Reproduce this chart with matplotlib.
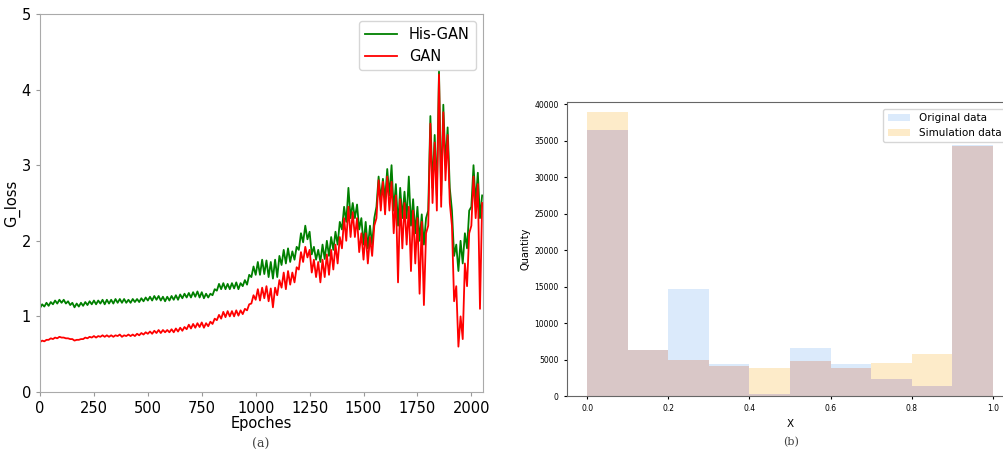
import numpy as np
import matplotlib
matplotlib.use('Agg')
import matplotlib.pyplot as plt

# G_loss, one value every 10 epochs
step = 10
gan = [
    0.66, 0.68, 0.67, 0.69, 0.69, 0.71, 0.70, 0.72, 0.71, 0.73,
    0.72, 0.72, 0.71, 0.71, 0.70, 0.70, 0.68, 0.69, 0.69, 0.70,
    0.70, 0.72, 0.71, 0.73, 0.72, 0.74, 0.72, 0.74, 0.73, 0.75,
    0.73, 0.75, 0.73, 0.75, 0.73, 0.75, 0.74, 0.76, 0.73, 0.75,
    0.74, 0.76, 0.74, 0.76, 0.74, 0.77, 0.75, 0.78, 0.76, 0.79,
    0.77, 0.80, 0.77, 0.81, 0.78, 0.82, 0.78, 0.82, 0.79, 0.82,
    0.79, 0.83, 0.79, 0.84, 0.80, 0.85, 0.81, 0.86, 0.83, 0.89,
    0.84, 0.90, 0.85, 0.91, 0.86, 0.92, 0.85, 0.91, 0.87, 0.93,
    0.90, 0.97, 0.95, 1.02, 0.97, 1.06, 0.99, 1.07, 1.00, 1.07,
    1.00, 1.08, 1.01, 1.08, 1.03, 1.10, 1.08, 1.16, 1.17, 1.28,
    1.22, 1.36, 1.21, 1.38, 1.24, 1.40, 1.20, 1.37, 1.12, 1.38,
    1.28, 1.48, 1.38, 1.58, 1.36, 1.60, 1.42, 1.58, 1.45, 1.65,
    1.62, 1.85, 1.72, 1.92, 1.78, 1.88, 1.58, 1.75, 1.52, 1.72,
    1.45, 1.75, 1.52, 1.82, 1.55, 1.88, 1.62, 1.95, 1.70, 2.05,
    1.90, 2.30, 2.00, 2.45, 2.05, 2.38, 2.05, 2.30, 1.85, 2.10,
    1.75, 2.10, 1.70, 2.05, 1.80, 2.20, 2.30, 2.80, 2.40, 2.78,
    2.35, 2.85, 2.40, 2.78, 2.10, 2.60, 1.45, 2.55, 1.90, 2.50,
    1.95, 2.45, 1.60, 2.40, 1.70, 2.30, 1.30, 2.25, 1.15, 2.10,
    2.20, 3.55, 2.50, 3.30, 2.40, 4.20, 2.45, 3.70, 2.80, 3.40,
    2.50, 2.20, 1.20, 1.40, 0.60, 1.00, 0.70, 1.70, 1.40, 2.10,
    2.20, 2.85, 2.30, 2.75, 1.10, 2.50,
]
his_gan = [
    1.11, 1.16, 1.13, 1.18, 1.14, 1.19, 1.16, 1.21, 1.17, 1.22,
    1.18, 1.22, 1.17, 1.20, 1.15, 1.18, 1.12, 1.17, 1.13, 1.18,
    1.14, 1.19, 1.15, 1.20, 1.16, 1.21, 1.16, 1.21, 1.17, 1.22,
    1.16, 1.22, 1.17, 1.22, 1.17, 1.23, 1.18, 1.23, 1.18, 1.23,
    1.18, 1.22, 1.18, 1.23, 1.19, 1.23, 1.19, 1.24, 1.20, 1.25,
    1.21, 1.26, 1.21, 1.27, 1.22, 1.27, 1.21, 1.26, 1.20, 1.26,
    1.21, 1.27, 1.22, 1.28, 1.22, 1.29, 1.24, 1.30, 1.25, 1.31,
    1.25, 1.32, 1.26, 1.33, 1.25, 1.32, 1.24, 1.30, 1.25, 1.30,
    1.28, 1.36, 1.34, 1.43, 1.36, 1.44, 1.36, 1.43, 1.36, 1.44,
    1.37, 1.45, 1.36, 1.44, 1.40, 1.48, 1.42, 1.55, 1.52, 1.66,
    1.55, 1.72, 1.55, 1.75, 1.56, 1.74, 1.52, 1.72, 1.50, 1.75,
    1.52, 1.80, 1.68, 1.88, 1.70, 1.90, 1.72, 1.86, 1.75, 1.92,
    1.88, 2.10, 1.98, 2.20, 2.02, 2.12, 1.82, 1.92, 1.75, 1.88,
    1.72, 1.95, 1.76, 2.00, 1.80, 2.05, 1.88, 2.12, 1.95, 2.25,
    2.15, 2.45, 2.25, 2.70, 2.30, 2.50, 2.30, 2.48, 2.15, 2.30,
    1.95, 2.25, 1.90, 2.20, 1.95, 2.30, 2.45, 2.85, 2.55, 2.82,
    2.55, 2.95, 2.60, 3.00, 2.40, 2.75, 2.20, 2.70, 2.30, 2.65,
    2.30, 2.85, 2.20, 2.55, 2.10, 2.45, 2.00, 2.35, 1.95, 2.30,
    2.40, 3.65, 2.70, 3.40, 2.60, 4.25, 2.60, 3.80, 3.00, 3.50,
    2.70, 2.40, 1.80, 1.95, 1.60, 2.00, 1.70, 2.10, 1.90, 2.40,
    2.45, 3.00, 2.50, 2.90, 2.30, 2.60,
]

# histogram counts, 10 bins on [0, 1]
bin_edges = [0.0, 0.1, 0.2, 0.3, 0.4, 0.5, 0.6, 0.7, 0.8, 0.9, 1.0]
original = [36500, 6300, 14600, 4450, 320, 6600, 4350, 2350, 1340, 34400]
simulation = [38900, 6300, 5000, 4100, 3850, 4750, 3900, 4500, 5750, 34300]

fig = plt.figure(figsize=(10.04, 4.51), dpi=100)

# (a) loss curves
ax1 = fig.add_axes([40/1004, 1 - 392/451, 443/1004, 378/451])
epochs = np.arange(len(gan)) * step
ax1.plot(epochs, his_gan, color='green', lw=1.3, label='His-GAN')
ax1.plot(epochs, gan, color='red', lw=1.3, label='GAN')
ax1.set_xlim(0, 2054)
ax1.set_ylim(0, 5)
ax1.set_xticks([0, 250, 500, 750, 1000, 1250, 1500, 1750, 2000])
ax1.set_yticks([0, 1, 2, 3, 4, 5])
ax1.tick_params(labelsize=10.5, length=3, color='#999999')
for s in ax1.spines.values():
    s.set_color('#aaaaaa')
ax1.set_xlabel('Epoches', fontsize=10.5, labelpad=0)
ax1.set_ylabel('G_loss', fontsize=10.5, labelpad=1)
ax1.legend(loc='upper right', fontsize=10.5, handlelength=2.2)
fig.text(261/1004, 1 - 444/451, '(a)', ha='center', va='center',
         fontsize=9, family='DejaVu Serif', color='#444444')

# (b) histogram
ax2 = fig.add_axes([567/1004, 1 - 396/451, 446/1004, 294/451])
lefts = np.array(bin_edges[:-1])
widths = np.diff(bin_edges)
orig = np.array(original)
sim = np.array(simulation)
ax2.bar(lefts, orig, width=widths, align='edge', color='#dbeafb', label='Original data')
ax2.bar(lefts, sim, width=widths, align='edge', color='#fdebc9', label='Simulation data')
ax2.bar(lefts, np.minimum(orig, sim), width=widths, align='edge', color='#d9c7c7')
ax2.set_xlim(-0.05, 1.05)
ax2.set_ylim(0, 40300)
ax2.set_xticks([0.0, 0.2, 0.4, 0.6, 0.8, 1.0])
ax2.set_yticks(range(0, 40001, 5000))
ax2.tick_params(labelsize=5.5, length=2.5)
for s in ax2.spines.values():
    s.set_color('#666666')
ax2.set_xlabel('X', fontsize=7.5)
ax2.set_ylabel('Quantity', fontsize=7, labelpad=3)
ax2.legend(loc='upper right', fontsize=7.5, handlelength=2.2,
           bbox_to_anchor=(0.995, 0.995))
fig.text(791/1004, 1 - 442/451, '(b)', ha='center', va='center',
         fontsize=8, family='DejaVu Serif', color='#444444')

fig.savefig('out.png', dpi=100)
